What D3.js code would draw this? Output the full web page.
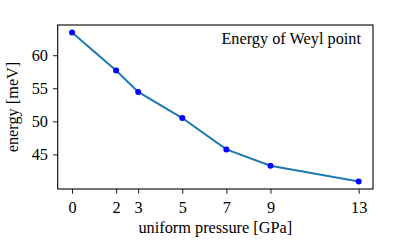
<!DOCTYPE html>
<html><head><meta charset="utf-8">
<script src="https://cdn.jsdelivr.net/npm/d3@7"></script>
<style>body{margin:0;background:#fff}svg{display:block}text{font-family:"Liberation Serif","DejaVu Serif",serif;fill:#000}</style>
</head><body><svg id="c" width="407" height="244"></svg>
<script>
const pressure = [0, 2, 3, 5, 7, 9, 13];
const energy = [63.44, 57.68, 54.45, 50.5, 45.76, 43.29, 40.9];
const xTicks = [0, 2, 3, 5, 7, 9, 13];
const yTicks = [45, 50, 55, 60];
const title = "Energy of Weyl point";
const xLabel = "uniform pressure [GPa]";
const yLabel = "energy [meV]";

const svg = d3.select("#c");
const L = 57.7, R = 373, T = 25, B = 189;
const xpad = (d3.max(pressure) - d3.min(pressure)) * 0.05;
const ypad = (d3.max(energy) - d3.min(energy)) * 0.05;
const x = d3.scaleLinear().domain([d3.min(pressure) - xpad, d3.max(pressure) + xpad]).range([L, R]);
const y = d3.scaleLinear().domain([d3.min(energy) - ypad, d3.max(energy) + ypad]).range([B, T]);
const fs = 16.3;

const xAxis = svg.append("g").attr("transform", `translate(0,${B})`)
  .call(d3.axisBottom(x).tickValues(xTicks).tickFormat(d3.format("d")).tickSize(4.7).tickPadding(8));
const yAxis = svg.append("g").attr("transform", `translate(${L},0)`)
  .call(d3.axisLeft(y).tickValues(yTicks).tickFormat(d3.format("d")).tickSize(4.7).tickPadding(5));
[xAxis, yAxis].forEach(a => {
  a.select(".domain").remove();
  a.selectAll(".tick line").attr("stroke", "#000").attr("stroke-width", 0.9);
  a.selectAll(".tick text").attr("font-family", '"Liberation Serif", serif').attr("font-size", fs).attr("fill", "#000");
});

svg.append("path")
  .datum(pressure.map((p, i) => [p, energy[i]]))
  .attr("fill", "none").attr("stroke", "#1f77b4").attr("stroke-width", 2)
  .attr("d", d3.line().x(d => x(d[0])).y(d => y(d[1])));

svg.selectAll("circle.pt").data(pressure.map((p, i) => [p, energy[i]])).enter()
  .append("circle").attr("class", "pt")
  .attr("cx", d => x(d[0])).attr("cy", d => y(d[1])).attr("r", 3).attr("fill", "#0000ff");

svg.append("rect").attr("x", L).attr("y", T).attr("width", R - L).attr("height", B - T)
  .attr("fill", "none").attr("stroke", "#000").attr("stroke-width", 1.1);

svg.append("text").attr("x", 361).attr("y", 44).attr("text-anchor", "end").attr("font-size", fs).text(title);
svg.append("text").attr("x", (L + R) / 2).attr("y", 232.5).attr("text-anchor", "middle").attr("font-size", fs).text(xLabel);
svg.append("text").attr("transform", `translate(17.5,${(T + B) / 2}) rotate(-90)`).attr("text-anchor", "middle").attr("font-size", fs).text(yLabel);
</script></body></html>
